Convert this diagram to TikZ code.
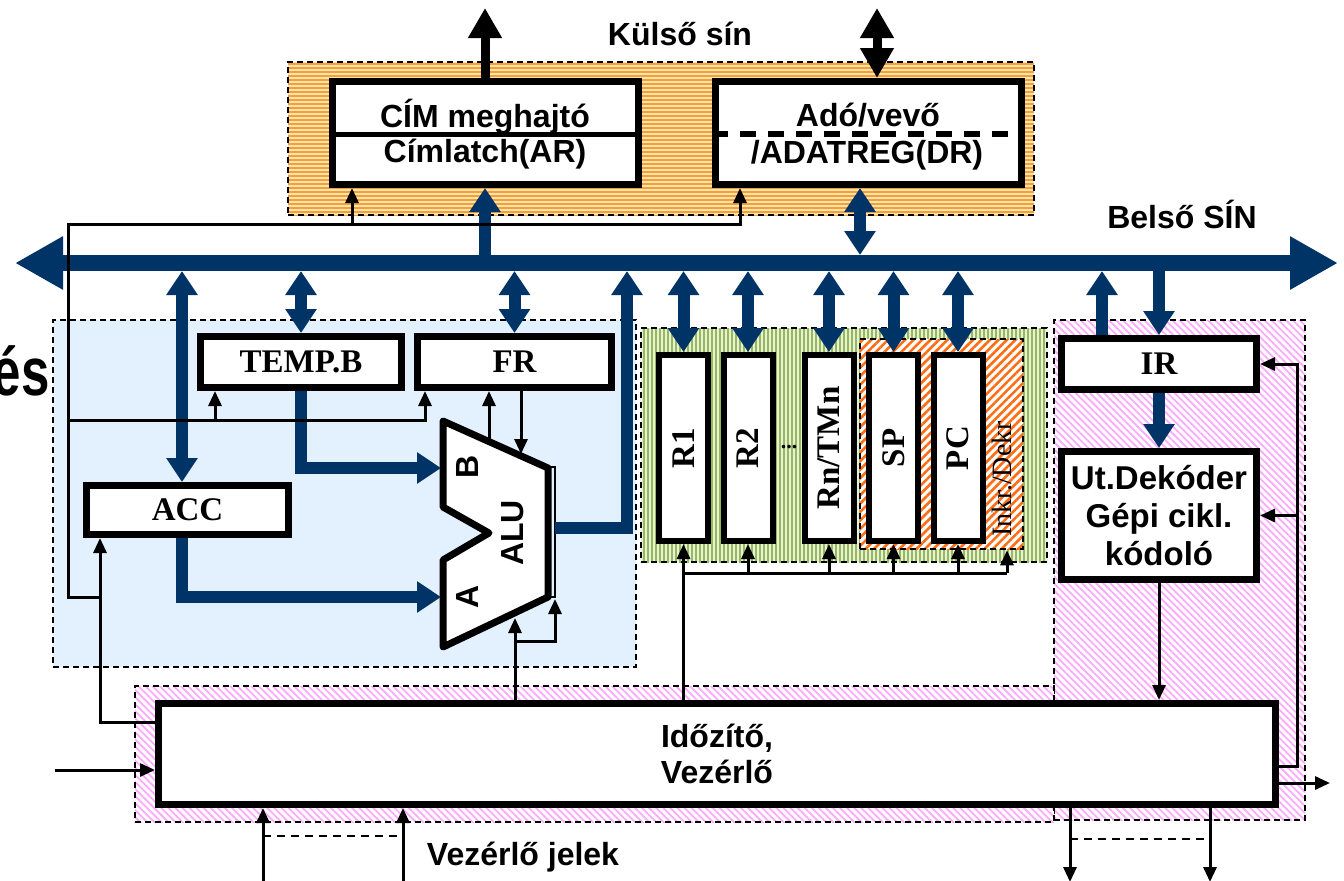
\documentclass[tikz,border=0pt]{standalone}
\usepackage{fontspec}
\setmainfont{Liberation Sans}
\newfontfamily\tnrfont{Liberation Serif}
\usetikzlibrary{arrows.meta,positioning,patterns.meta}
\definecolor{busblue}{RGB}{0,51,102}
\definecolor{alubg}{RGB}{227,240,253}
\definecolor{extlight}{RGB}{253,226,180}
\definecolor{extdark}{RGB}{245,160,50}
\definecolor{reglight}{RGB}{232,240,218}
\definecolor{regdark}{RGB}{150,185,90}
\definecolor{incdark}{RGB}{255,110,20}
\definecolor{ctrldark}{RGB}{255,170,255}

\begin{document}
\begin{tikzpicture}[x=0.5pt, y=-0.5pt,
  lbl/.style={font=\fontsize{16}{19}\selectfont\bfseries},
  tlbl/.style={font=\tnrfont\fontsize{16.5}{19}\selectfont\bfseries},
  unit/.style={draw, line width=3.5pt, fill=white, inner sep=0pt},
  reg/.style={unit, line width=3pt, minimum width=24.5pt, minimum height=93pt, tlbl},
  area/.style={draw, dash pattern=on 3pt off 2pt, line width=0.75pt, inner sep=0pt},
  extarea/.style={area, preaction={fill=extlight},
    pattern={Lines[angle=0,distance=2pt,line width=1pt]}, pattern color=extdark},
  aluarea/.style={area, fill=alubg},
  regarea/.style={area, preaction={fill=reglight},
    pattern={Lines[angle=90,distance=2pt,line width=1pt]}, pattern color=regdark},
  incarea/.style={area, preaction={fill=white},
    pattern={Lines[angle=45,distance=3pt,line width=1.3pt]}, pattern color=incdark},
  ctrlarea/.style={area, preaction={fill=white},
    pattern={Lines[angle=-45,distance=2.5pt,line width=0.9pt]}, pattern color=ctrldark},
  wire/.style={line width=1.5pt},
  sig/.style={wire, -{Triangle[length=7.5pt,width=6.5pt]}},
  nav/.style={draw=busblue, line width=6pt, -{Triangle[length=12pt,width=15pt]}},
  dnav/.style={nav, {Triangle[length=12pt,width=15pt]}-{Triangle[length=12pt,width=15pt]}},
  bus/.style={draw=busblue, line width=8pt,
    {Triangle[length=24pt,width=25pt]}-{Triangle[length=24pt,width=25pt]}},
  ext/.style={line width=4.5pt, -{Triangle[length=15pt,width=16pt]}},
  dext/.style={ext, {Triangle[length=15pt,width=16pt]}-{Triangle[length=15pt,width=16pt]}}
]
\useasboundingbox (0,0) rectangle (1344,880);
\clip (0,0) rectangle (1344,880);

\node[font=\fontsize{34}{40}\selectfont\bfseries, anchor=base east, inner sep=0pt] (es) at (50,395)
  {\scalebox{0.75}[1]{és}};

\node[extarea, minimum width=373pt, minimum height=76.5pt] (extbus) at (661,138.5) {};
\node[aluarea, minimum width=291.5pt, minimum height=173.5pt] (alureg) at (344.5,493.5) {};
\node[regarea, minimum width=203pt, minimum height=117pt] (regfile) at (844,445) {};
\node[incarea, minimum width=81.5pt, minimum height=105pt] (inc) at (941.5,444) {};
\node[ctrlarea, minimum width=125.5pt, minimum height=250pt] (ctrl) at (1179.5,570) {};
\node[ctrlarea, minimum width=459.5pt, minimum height=68pt] (timing) at (594.5,754) {};

\node[lbl, anchor=base] (kulso) at (680,45) {Külső sín};
\node[lbl, anchor=base] (belso) at (1182,228) {Belső SÍN};

\node[unit, minimum width=153pt, minimum height=51.5pt] (cim) at (485,133) {};
\node[unit, minimum width=153pt, minimum height=51.5pt] (ado) at (868.5,133) {};
\draw[line width=2.5pt] (cim.west |- 0,134.5) -- (cim.east |- 0,134.5);
\draw[line width=3pt, dash pattern=on 8pt off 6pt] (ado.west |- 0,134) -- (ado.east |- 0,134);
\node[lbl, anchor=base] at (485,127) {CÍM meghajtó};
\node[lbl, anchor=base] at (485,162) {Címlatch(AR)};
\node[lbl, anchor=base] at (868,126) {Adó/vevő};
\node[lbl, anchor=base] at (867,163) {/ADATREG(DR)};

\node[unit, tlbl, minimum width=100.5pt, minimum height=25.5pt] (tempb) at (301,362) {TEMP.B};
\node[unit, tlbl, minimum width=97pt, minimum height=25.5pt] (fr) at (514.5,362) {FR};
\node[unit, tlbl, minimum width=101pt, minimum height=24.5pt] (acc) at (187.5,510) {ACC};

\draw[line width=3.5pt, fill=white, line join=round]
  (443,421) -- (548,468) -- (548,597) -- (443,647) -- (443,560) -- (489,533) -- (443,507) -- cycle;
\draw[line width=1.2pt] (548,467) -- (555,467) -- (555,597) -- (548,597);
\node[lbl, rotate=90] (alub) at (467,467) {B};
\node[lbl, rotate=90] (alu) at (513,533) {ALU};
\node[lbl, rotate=90] (alua) at (467,597) {A};

\foreach \x/\name/\txt in {683.5/r1/R1, 748/r2/R2, 829/rn/{Rn/TMn}, 893.5/sp/SP, 958/pc/PC}
  \node[reg] (\name) at (\x,448) {\rotatebox{90}{\txt}};
\node[font=\tnrfont\fontsize{11}{12}\selectfont\bfseries] (dots) at (789,447) {...};
\node[font=\tnrfont\fontsize{14}{16}\selectfont, rotate=90] (inkr) at (1002,479) {Inkr./Dekr};

\node[unit, tlbl, minimum width=97.5pt, minimum height=25.5pt] (ir) at (1159,364) {IR};
\node[unit, lbl, align=center, minimum width=97.5pt, minimum height=64pt,
  font=\fontsize{16.5}{19}\selectfont\bfseries] (dek) at (1159,515.5) {Ut.Dekóder\\Gépi cikl.\\kódoló};
\node[unit, lbl, align=center, minimum width=558.5pt, minimum height=50.5pt,
  font=\fontsize{16}{18}\selectfont\bfseries] (timer) at (717,754) {Időzítő,\\Vezérlő};

\coordinate (busW) at (15,263);
\coordinate (busE) at (1338,263);
\coordinate (busN) at (0,255);
\coordinate (busS) at (0,271);
\coordinate (extA) at (485,8);
\coordinate (extD) at (877,8);
\coordinate (aluB) at (441,468);
\coordinate (aluA) at (441,597);
\coordinate (aluOut) at (555,528);
\coordinate (inL) at (55,770);
\coordinate (outR) at (1330,783);
\coordinate (ctl1) at (263,882);
\coordinate (ctl2) at (403,882);
\coordinate (st1) at (1070,882);
\coordinate (st2) at (1210,882);

\draw[bus] (busW) -- (busE);
\draw[ext] (cim.north) -- (extA);
\draw[dext] (ado.north -| extD) -- (extD);
\draw[nav] (cim.south |- busW) -- (cim.south);
\draw[dnav] (ado.south -| 860,0) -- (860,0 |- busN);
\draw[dnav] (busS -| 182,0) -- (acc.north -| 182,0);
\draw[dnav] (tempb.north |- busS) -- (tempb.north);
\draw[dnav] (fr.north |- busS) -- (fr.north);
\draw[nav] (tempb.south) |- (aluB);
\draw[nav] (acc.south -| 182,0) |- (aluA);
\draw[nav] (aluOut) -| (busS -| 627,0);
\foreach \r in {r1,r2,rn,sp,pc}
  \draw[dnav] (\r.north |- busS) -- (\r.north);
\draw[nav] (ir.north -| 1102,0) -- (busS -| 1102,0);
\draw[nav] (busS -| ir.north) -- (ir.north);
\draw[nav] (ir.south) -- (dek.north);

\draw[sig] (100,597) -| (68,224) -| (ado.south -| 740,0);
\draw[sig] (352,224) -- (cim.south -| 352,0);
\draw[sig] (68,420) -| (fr.south -| 425,0);
\draw[sig] (215,420) -- (tempb.south -| 215,0);
\draw[sig] (timer.west |- 0,722) -| (acc.south -| 100,0);
\draw[sig] (489,442) -- (fr.south -| 489,0);
\draw[sig] (fr.south -| 521,0) -- (521,454);
\draw[sig] (timer.north -| 515,0) -- (515,618);
\draw[sig] (515,641) -| (555,599);
\draw[sig] (timer.north -| r1.south) -- (r1.south);
\draw[wire] (r1.south |- 0,573) -- (1007,573);
\foreach \r in {r2,rn,sp,pc}
  \draw[sig] (\r.south |- 0,573) -- (\r.south);
\draw[sig] (1007,573) -- (inc.south -| 1007,0);
\draw[sig] (dek.south) -- (timer.north -| dek.south);
\draw[sig] (timer.east |- 0,766) -| (1297,0 |- ir.east) -- (ir.east);
\draw[sig] (1297,0 |- dek.east) -- (dek.east);
\draw[sig] (inL) -- (timer.west |- inL);
\draw[sig] (timer.east |- outR) -- (outR);
\draw[sig] (ctl1) -- (timer.south -| ctl1);
\draw[sig] (ctl2) -- (timer.south -| ctl2);
\draw[wire, line width=1pt, dash pattern=on 4pt off 3pt] (263,836) -- (403,836);
\draw[sig] (timer.south -| st1) -- (st1);
\draw[sig] (timer.south -| st2) -- (st2);
\draw[wire, line width=1pt, dash pattern=on 4pt off 3pt] (1070,839) -- (1210,839);
\node[lbl, anchor=base] (vjelek) at (523,865) {Vezérlő jelek};
\end{tikzpicture}
\end{document}
